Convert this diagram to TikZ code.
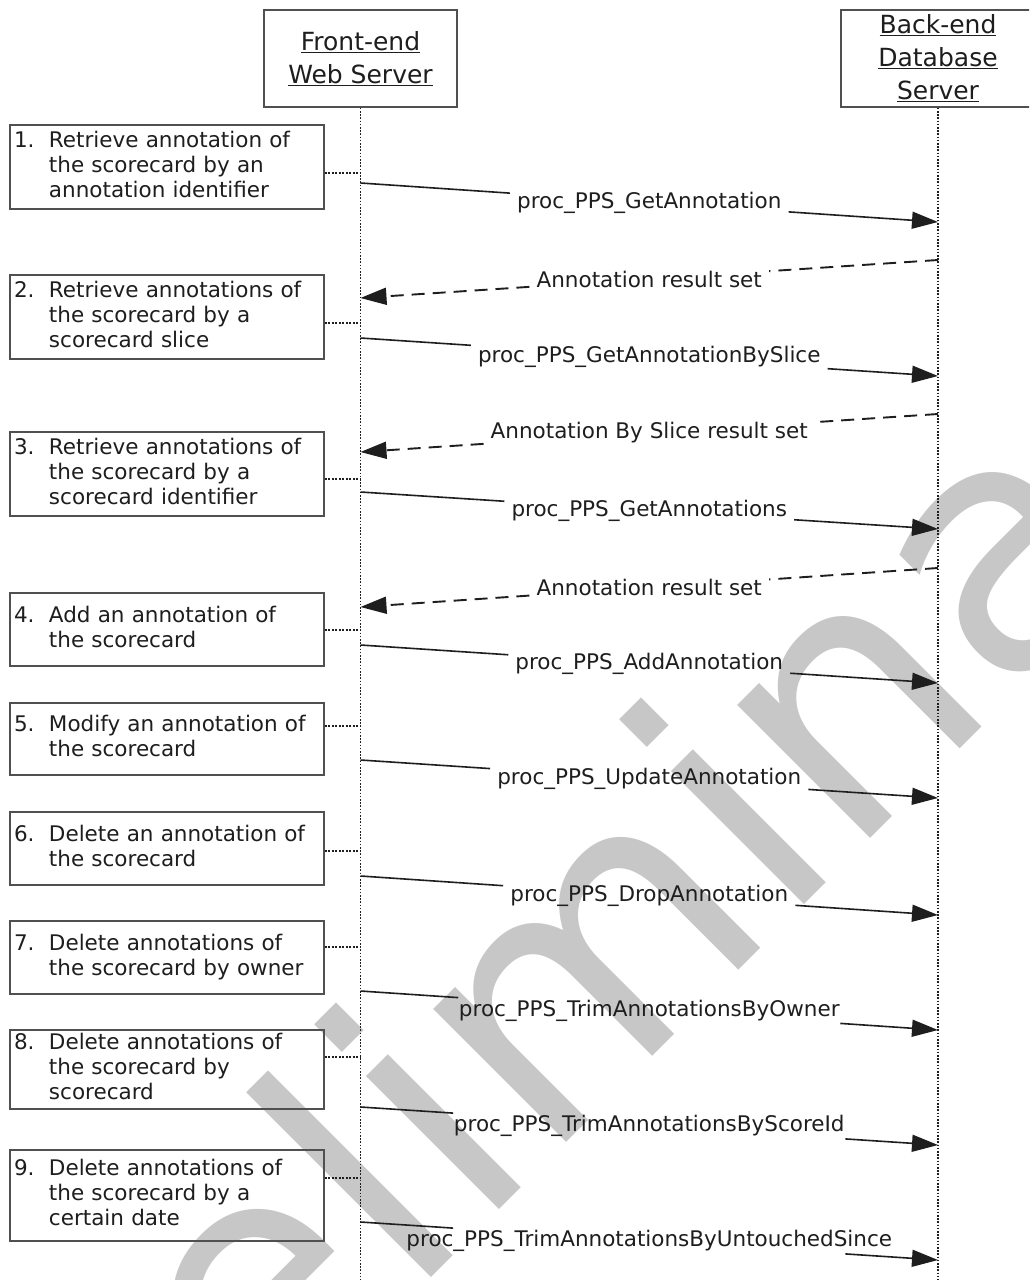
\documentclass[tikz,border=0pt]{standalone}
\usepackage{fontspec}
\setmainfont{DejaVu Sans}
\usetikzlibrary{arrows.meta,calc}

\definecolor{ink}{HTML}{1E1E1E}
\definecolor{frame}{HTML}{505050}
\definecolor{wmgray}{RGB}{199,199,199}

% numbered step text with hanging indent
\newcommand\notetext[2]{\begin{tabular}{@{}p{35pt}@{}l@{}}#1&#2\end{tabular}}

\begin{document}
\begin{tikzpicture}[x=1pt,y=-1pt,
  every node/.style={text=ink, font=\fontsize{21.5}{25}\selectfont},
  header/.style={draw=frame, line width=1.6pt, align=center, inner sep=0pt,
                 minimum height=97pt, font=\fontsize{25}{33}\selectfont},
  notebox/.style={draw=frame, line width=1.6pt, text width=306pt,
                  inner xsep=4pt, inner ysep=0pt},
  lbl/.style={inner xsep=7pt, inner ysep=2pt},
  lifeline/.style={draw=ink, line width=1.2pt, dash pattern=on 1.6pt off 1.6pt},
  hook/.style={draw=ink, line width=1.7pt, dash pattern=on 2pt off 1.5pt},
  msg/.style={draw=ink, line width=1.6pt},
  reply/.style={draw=ink, line width=1.9pt, dash pattern=on 13pt off 8pt},
  tip/.style={-{Triangle[length=26pt,width=17pt]}},
  wm/.style={text=wmgray, font=\fontsize{344}{344}\selectfont, rotate=45,
             anchor=base west, inner sep=0pt},
]
\useasboundingbox (0,0) rectangle (1029,1280);
\fill[white] (0,0) rectangle (1029,1280);
\clip (0,0) rectangle (1029,1280);

% watermark behind everything
\node[wm] (mark) at (22,1687) {Preliminary};

% participants
\node[header, minimum width=193pt] (fe) at (360.5,58.5)
  {\underline{Front-end}\\\underline{Web Server}};
\node[header, minimum width=194pt] (be) at (938,58.5)
  {\underline{Back-end}\\\underline{Database}\\\underline{Server}};

\coordinate (bottom) at (0,1280);
\draw[lifeline] (fe.south) -- (fe.south |- bottom);
\draw[lifeline] (be.south) -- (be.south |- bottom);

% step notes
\node[notebox, minimum height=84pt] (b1) at (167,167)
  {\notetext{1.}{Retrieve annotation of\\&the scorecard by an\\&annotation identifier}};
\node[notebox, minimum height=84pt] (b2) at (167,317)
  {\notetext{2.}{Retrieve annotations of\\&the scorecard by a\\&scorecard slice}};
\node[notebox, minimum height=84pt] (b3) at (167,474)
  {\notetext{3.}{Retrieve annotations of\\&the scorecard by a\\&scorecard identifier}};
\node[notebox, minimum height=73pt] (b4) at (167,629.5)
  {\notetext{4.}{Add an annotation of\\&the scorecard}};
\node[notebox, minimum height=72pt] (b5) at (167,739)
  {\notetext{5.}{Modify an annotation of\\&the scorecard}};
\node[notebox, minimum height=73pt] (b6) at (167,848.5)
  {\notetext{6.}{Delete an annotation of\\&the scorecard}};
\node[notebox, minimum height=73pt] (b7) at (167,957.5)
  {\notetext{7.}{Delete annotations of\\&the scorecard by owner}};
\node[notebox, minimum height=79pt] (b8) at (167,1069.5)
  {\notetext{8.}{Delete annotations of\\&the scorecard by\\&scorecard}};
\node[notebox, minimum height=91pt] (b9) at (167,1195.5)
  {\notetext{9.}{Delete annotations of\\&the scorecard by a\\&certain date}};

% notes hooked to the front-end lifeline
\foreach \i/\y in {1/173,2/323,3/479,4/630,5/726,6/851,7/947,8/1057,9/1178}
  \draw[hook] (b\i.east |- 0,\y) -- (fe.south |- 0,\y);

% calls to the database
\foreach \i/\ya/\yb/\txt in {
    1/183/222/proc\_PPS\_GetAnnotation,
    2/338/376/proc\_PPS\_GetAnnotationBySlice,
    3/492/529/proc\_PPS\_GetAnnotations,
    4/645/683/proc\_PPS\_AddAnnotation,
    5/760/798/proc\_PPS\_UpdateAnnotation,
    6/876/915/proc\_PPS\_DropAnnotation,
    7/991/1030/proc\_PPS\_TrimAnnotationsByOwner,
    8/1107/1145/proc\_PPS\_TrimAnnotationsByScoreId,
    9/1222/1260/proc\_PPS\_TrimAnnotationsByUntouchedSince}{
  \coordinate (cs\i) at (fe.south |- 0,\ya);
  \coordinate (ce\i) at (be.south |- 0,\yb);
  \node[lbl] (cl\i) at ($(cs\i)!0.5!(ce\i)$) {\txt};
  \draw[msg] (cs\i) -- (cl\i);
  \draw[msg,tip] (cl\i) -- (ce\i);
}

% result sets returned
\foreach \i/\ya/\yb/\txt in {
    1/260/298/Annotation result set,
    2/414/452/Annotation By Slice result set,
    3/568/607/Annotation result set}{
  \coordinate (rs\i) at (be.south |- 0,\ya);
  \coordinate (re\i) at (fe.south |- 0,\yb);
  \node[lbl] (rl\i) at ($(rs\i)!0.5!(re\i)$) {\txt};
  \draw[reply] (rs\i) -- (rl\i);
  \draw[reply,tip] (rl\i) -- (re\i);
}
\end{tikzpicture}
\end{document}
